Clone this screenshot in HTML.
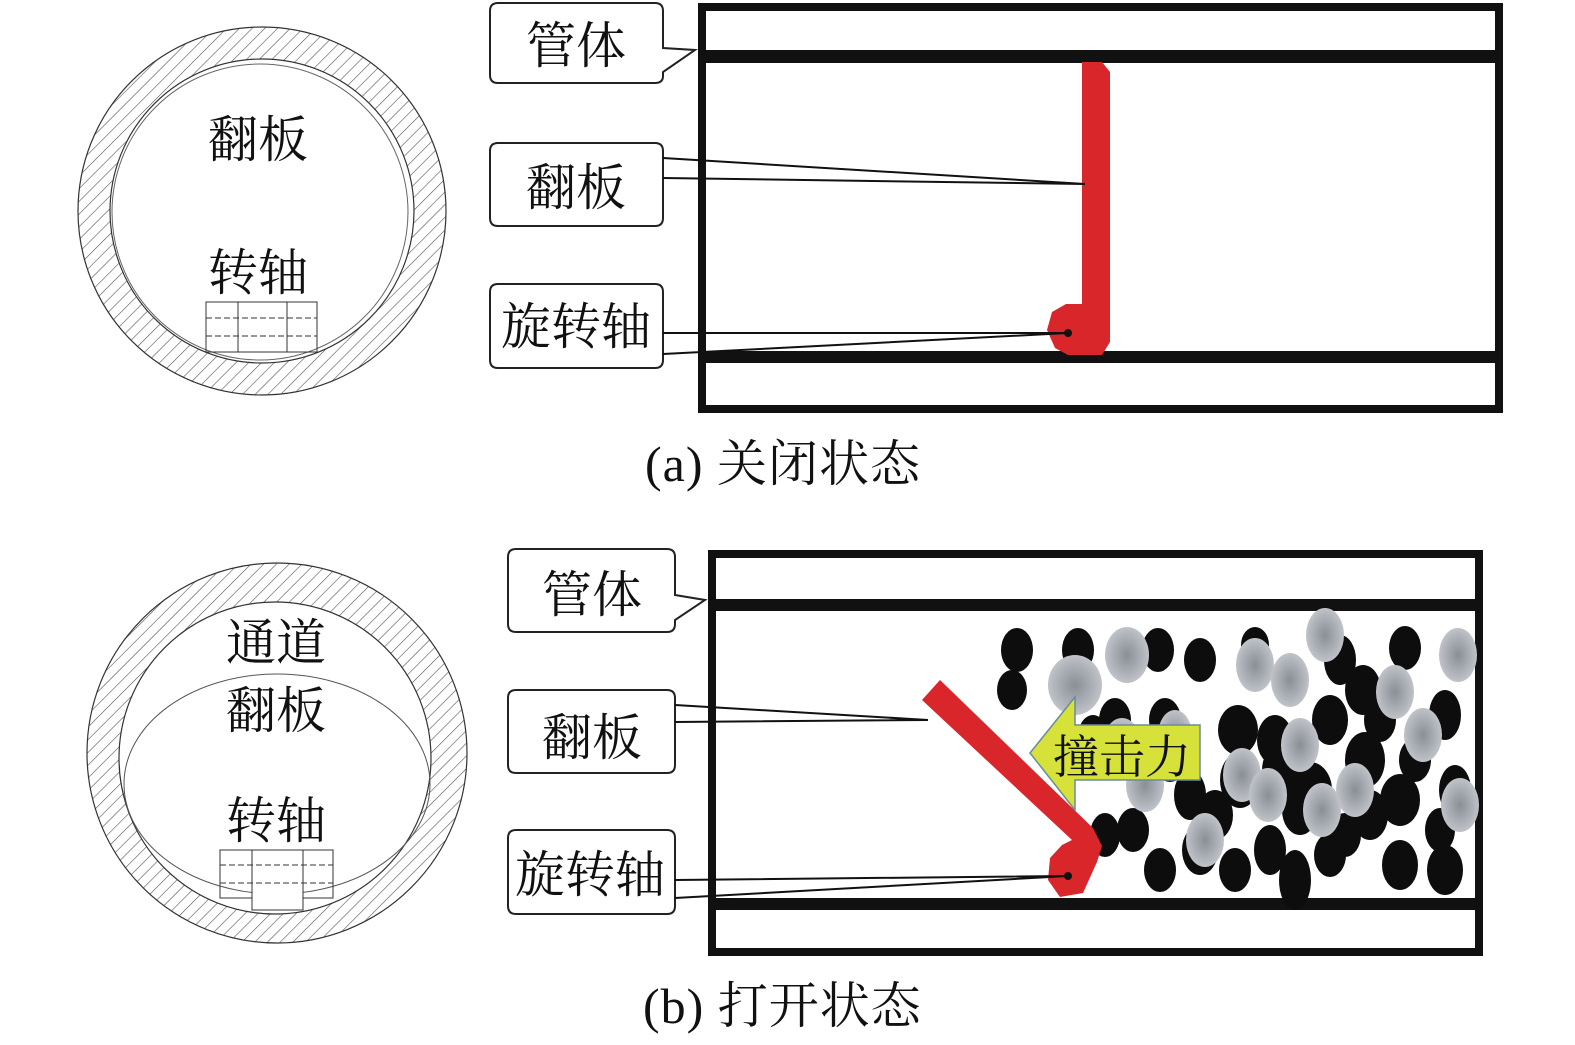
<!DOCTYPE html>
<html><head><meta charset="utf-8"><style>
body{margin:0;background:#fff;}
svg{display:block}
text{font-family:"Liberation Serif","Noto Serif CJK SC","Noto Sans CJK SC",serif;fill:#111}
</style></head><body>
<svg width="1575" height="1045" viewBox="0 0 1575 1045" xmlns="http://www.w3.org/2000/svg">
<defs>
<pattern id="h" width="9" height="9" patternUnits="userSpaceOnUse" patternTransform="rotate(45)">
<rect width="9" height="9" fill="#fff"/><line x1="0" y1="0" x2="0" y2="9" stroke="#555" stroke-width="1.2"/>
</pattern>
<radialGradient id="g"><stop offset="0" stop-color="#8a8f96"/><stop offset="0.6" stop-color="#a9adb4"/><stop offset="1" stop-color="#c0c4c9"/></radialGradient>
</defs>

<!-- top left circle -->
<circle cx="262" cy="211" r="184" fill="url(#h)" stroke="#333" stroke-width="1.2"/>
<circle cx="262" cy="211" r="152" fill="#fff" stroke="#333" stroke-width="1.2"/>
<circle cx="260" cy="212" r="148" fill="none" stroke="#666" stroke-width="1"/>
<text x="258" y="157" font-size="50" text-anchor="middle">翻板</text>
<text x="258" y="290" font-size="50" text-anchor="middle">转轴</text>
<g stroke="#333" stroke-width="1" fill="none">
<rect x="206" y="302" width="111" height="50"/>
<line x1="238" y1="302" x2="238" y2="352"/><line x1="287" y1="302" x2="287" y2="352"/>
<line x1="206" y1="318" x2="317" y2="318" stroke-dasharray="6,3"/>
<line x1="206" y1="336" x2="317" y2="336" stroke-dasharray="6,3"/>
</g>

<!-- top pipe -->
<rect x="702" y="7" width="797" height="402" fill="none" stroke="#111" stroke-width="8"/>
<rect x="700" y="50" width="801" height="13" fill="#111"/>
<rect x="700" y="351" width="801" height="12" fill="#111"/>
<polygon points="1082,62 1102,62 1110,72 1110,342 1102,355 1068,355 1055,348 1047,330 1052,312 1066,304 1082,304" fill="#d9262b"/>
<circle cx="1068" cy="333" r="4" fill="#111"/>
<!-- callouts top -->
<path d="M498,3 H655 Q663,3 663,11 V48 L695,50 L663,72 V76 Q663,83 655,83 H498 Q490,83 490,75 V11 Q490,3 498,3 Z" fill="#fff" stroke="#222" stroke-width="2"/>
<text x="576" y="63" font-size="50" text-anchor="middle">管体</text>
<path d="M498,143 H655 Q663,143 663,151 V218 Q663,226 655,226 H498 Q490,226 490,218 V151 Q490,143 498,143 Z" fill="#fff" stroke="#222" stroke-width="2"/>
<polyline points="663,158 1085,184 663,178" fill="none" stroke="#111" stroke-width="2"/>
<text x="576" y="205" font-size="50" text-anchor="middle">翻板</text>
<path d="M498,284 H655 Q663,284 663,292 V360 Q663,368 655,368 H498 Q490,368 490,360 V292 Q490,284 498,284 Z" fill="#fff" stroke="#222" stroke-width="2"/>
<polyline points="663,333 1068,333 663,354" fill="none" stroke="#111" stroke-width="2"/>
<text x="576" y="344" font-size="50" text-anchor="middle">旋转轴</text>
<text x="645" y="481" font-size="50" letter-spacing="1">(a) 关闭状态</text>

<!-- bottom left circle -->
<circle cx="277" cy="753" r="190" fill="url(#h)" stroke="#333" stroke-width="1.2"/>
<circle cx="275" cy="758" r="156" fill="#fff" stroke="#333" stroke-width="1.2"/>
<ellipse cx="277" cy="784" rx="153" ry="110" fill="none" stroke="#555" stroke-width="1"/>
<text x="276" y="660" font-size="50" text-anchor="middle">通道</text>
<text x="276" y="728" font-size="50" text-anchor="middle">翻板</text>
<text x="276" y="838" font-size="50" text-anchor="middle">转轴</text>
<g stroke="#333" stroke-width="1" fill="none">
<rect x="220" y="850" width="113" height="48"/>
<rect x="252" y="850" width="51" height="60" fill="#fff"/>
<line x1="220" y1="865" x2="333" y2="865" stroke-dasharray="6,3"/>
<line x1="220" y1="883" x2="333" y2="883" stroke-dasharray="6,3"/>
</g>

<!-- bottom pipe -->
<rect x="712" y="554" width="767" height="398" fill="none" stroke="#111" stroke-width="8"/>
<rect x="710" y="599" width="771" height="12" fill="#111"/>
<rect x="710" y="898" width="771" height="12" fill="#111"/>
<!-- particles -->
<g fill="#0d0d0d">
<ellipse cx="1017" cy="650" rx="16" ry="22"/><ellipse cx="1012" cy="690" rx="15" ry="20"/>
<ellipse cx="1078" cy="650" rx="16" ry="22"/><ellipse cx="1127" cy="660" rx="16" ry="22"/>
<ellipse cx="1158" cy="650" rx="16" ry="22"/><ellipse cx="1200" cy="660" rx="16" ry="22"/>
<ellipse cx="1255" cy="645" rx="14" ry="18"/><ellipse cx="1340" cy="660" rx="16" ry="25"/>
<ellipse cx="1405" cy="648" rx="16" ry="22"/><ellipse cx="1363" cy="690" rx="18" ry="25"/>
<ellipse cx="1445" cy="715" rx="16" ry="25"/><ellipse cx="1093" cy="740" rx="16" ry="25"/>
<ellipse cx="1115" cy="720" rx="16" ry="22"/><ellipse cx="1238" cy="730" rx="20" ry="25"/>
<ellipse cx="1275" cy="740" rx="18" ry="25"/><ellipse cx="1240" cy="780" rx="20" ry="28"/>
<ellipse cx="1190" cy="795" rx="16" ry="25"/><ellipse cx="1310" cy="790" rx="22" ry="28"/>
<ellipse cx="1330" cy="720" rx="18" ry="25"/><ellipse cx="1365" cy="760" rx="20" ry="28"/>
<ellipse cx="1400" cy="800" rx="20" ry="26"/><ellipse cx="1370" cy="815" rx="18" ry="25"/>
<ellipse cx="1455" cy="790" rx="16" ry="25"/><ellipse cx="1440" cy="830" rx="15" ry="22"/>
<ellipse cx="1105" cy="835" rx="15" ry="22"/><ellipse cx="1133" cy="830" rx="16" ry="22"/>
<ellipse cx="1160" cy="870" rx="16" ry="22"/><ellipse cx="1200" cy="850" rx="18" ry="25"/>
<ellipse cx="1235" cy="870" rx="16" ry="22"/><ellipse cx="1270" cy="850" rx="16" ry="25"/>
<ellipse cx="1295" cy="880" rx="16" ry="30"/><ellipse cx="1330" cy="855" rx="16" ry="22"/>
<ellipse cx="1400" cy="865" rx="18" ry="25"/><ellipse cx="1445" cy="870" rx="18" ry="25"/>
<ellipse cx="1170" cy="760" rx="16" ry="22"/><ellipse cx="1300" cy="810" rx="18" ry="25"/>
<ellipse cx="1215" cy="815" rx="18" ry="25"/><ellipse cx="1280" cy="770" rx="18" ry="25"/>
<ellipse cx="1345" cy="835" rx="16" ry="22"/><ellipse cx="1415" cy="760" rx="16" ry="22"/>
<ellipse cx="1380" cy="720" rx="16" ry="22"/><ellipse cx="1165" cy="720" rx="16" ry="22"/>
</g>
<g fill="url(#g)">
<ellipse cx="1127" cy="655" rx="22" ry="28"/><ellipse cx="1075" cy="685" rx="27" ry="30"/>
<ellipse cx="1255" cy="665" rx="19" ry="27"/><ellipse cx="1290" cy="680" rx="19" ry="27"/>
<ellipse cx="1325" cy="635" rx="19" ry="27"/><ellipse cx="1458" cy="655" rx="19" ry="27"/>
<ellipse cx="1395" cy="692" rx="19" ry="27"/><ellipse cx="1300" cy="745" rx="19" ry="27"/>
<ellipse cx="1423" cy="735" rx="19" ry="27"/><ellipse cx="1242" cy="775" rx="19" ry="27"/>
<ellipse cx="1145" cy="785" rx="19" ry="27"/><ellipse cx="1268" cy="795" rx="19" ry="27"/>
<ellipse cx="1355" cy="790" rx="19" ry="27"/><ellipse cx="1322" cy="810" rx="19" ry="27"/>
<ellipse cx="1460" cy="805" rx="19" ry="27"/><ellipse cx="1205" cy="840" rx="19" ry="27"/>
<ellipse cx="1122" cy="745" rx="19" ry="27"/><ellipse cx="1175" cy="735" rx="17" ry="25"/>
</g>
<!-- open flap -->
<polygon points="922,700 940,680 1093,828 1102,846 1097,862 1083,893 1060,897 1048,880 1050,858 1062,845 1072,840" fill="#d9262b"/>
<circle cx="1068" cy="876" r="4" fill="#111"/>
<!-- arrow -->
<polygon points="1030,753 1075,697 1075,725 1200,725 1200,780 1075,780 1075,810" fill="#d6e23a" stroke="#6b8a9c" stroke-width="1.5"/>
<text x="1122" y="773" font-size="46" text-anchor="middle">撞击力</text>
<!-- callouts bottom -->
<path d="M516,549 H667 Q675,549 675,557 V595 L705,600 L675,620 V624 Q675,632 667,632 H516 Q508,632 508,624 V557 Q508,549 516,549 Z" fill="#fff" stroke="#222" stroke-width="2"/>
<text x="592" y="612" font-size="50" text-anchor="middle">管体</text>
<path d="M516,690 H667 Q675,690 675,698 V765 Q675,773 667,773 H516 Q508,773 508,765 V698 Q508,690 516,690 Z" fill="#fff" stroke="#222" stroke-width="2"/>
<polyline points="675,705 928,720 675,722" fill="none" stroke="#111" stroke-width="2"/>
<text x="592" y="755" font-size="50" text-anchor="middle">翻板</text>
<path d="M516,830 H667 Q675,830 675,838 V906 Q675,914 667,914 H516 Q508,914 508,906 V838 Q508,830 516,830 Z" fill="#fff" stroke="#222" stroke-width="2"/>
<polyline points="675,880 1068,876 675,898" fill="none" stroke="#111" stroke-width="2"/>
<text x="590" y="892" font-size="50" text-anchor="middle">旋转轴</text>
<text x="643" y="1023" font-size="50" letter-spacing="1">(b) 打开状态</text>
</svg>
</body></html>
